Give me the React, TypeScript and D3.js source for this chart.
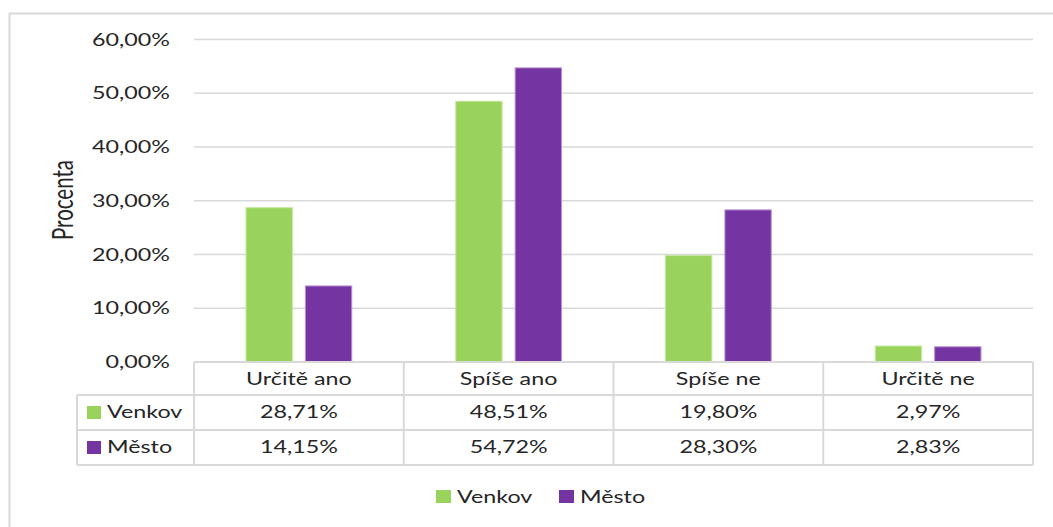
import * as d3 from "d3";

const categories = ["Určitě ano", "Spíše ano", "Spíše ne", "Určitě ne"];
const seriesNames = ["Venkov", "Město"];
const venkov = [28.71, 48.51, 19.8, 2.97];
const mesto = [14.15, 54.72, 28.3, 2.83];
const yTicks = [0, 10, 20, 30, 40, 50, 60];
const colors = ["#99d35b", "#7435a2"];
const strokes = ["#c4e89c", "#b98fd6"];

const W = 1053;
const H = 527;
const SX = 1.37; // the source is stretched horizontally
const FONT = "Lato, 'Open Sans', sans-serif";
const TXT = "#262626";
const GRID = "#d9d9d9";

const fmt = (v: number) => v.toFixed(2).replace(".", ",") + "%";

const T = ({ x, y, anchor = "middle", size = 17, children, rotate = 0 }: any) => (
  <text
    transform={`translate(${x},${y}) scale(${SX},1)${rotate ? ` rotate(${rotate})` : ""}`}
    textAnchor={anchor}
    fontSize={size}
    fontFamily={FONT}
    fill={TXT}
  >
    {children}
  </text>
);

export default function App() {
  const left = 194;
  const right = 1033;
  const top = 39.5;
  const bottom = 362;

  const x = d3.scaleBand<string>().domain(categories).range([left, right]).paddingInner(0.496).paddingOuter(0.248);
  const xs = d3.scaleBand<string>().domain(seriesNames).range([0, x.bandwidth()]).paddingInner(0.22);
  const y = d3.scaleLinear().domain([0, 60]).range([bottom, top]);

  const series = [venkov, mesto];
  const colEdges = [left, ...categories.map((c) => (x(c) as number) - x.step() * 0.248 + x.step())];
  const rowY = [362, 395, 430, 465];
  const tableLeft = 77;

  return (
    <svg width={W} height={H} style={{ position: "absolute", left: 0, top: 0, background: "#fff" }}>
      <rect x={9.5} y={13.5} width={W + 10} height={H + 10} fill="#fff" stroke={GRID} strokeWidth={2} />

      {yTicks.filter((t) => t > 0).map((t) => (
        <line key={t} x1={left} x2={right} y1={y(t)} y2={y(t)} stroke={GRID} strokeWidth={1.5} />
      ))}
      {yTicks.map((t) => (
        <T key={t} x={170} y={y(t) + 6} anchor="end">{fmt(t)}</T>
      ))}
      <T x={73} y={200} rotate={-90} size={20.5}>Procenta</T>

      {categories.map((c, i) => (
        <g key={c}>
          {series.map((s, j) => (
            <rect
              key={j}
              x={(x(c) as number) + (xs(seriesNames[j]) as number)}
              y={y(s[i])}
              width={xs.bandwidth()}
              height={bottom - y(s[i])}
              fill={colors[j]}
              stroke={strokes[j]}
              strokeWidth={1}
            />
          ))}
        </g>
      ))}

      {/* data table */}
      <line x1={left} x2={right} y1={rowY[0]} y2={rowY[0]} stroke={GRID} strokeWidth={2} />
      {rowY.slice(1).map((r) => (
        <line key={r} x1={tableLeft} x2={right} y1={r} y2={r} stroke={GRID} strokeWidth={2} />
      ))}
      <line x1={tableLeft} x2={tableLeft} y1={rowY[1]} y2={rowY[3]} stroke={GRID} strokeWidth={2} />
      {colEdges.map((e, i) => (
        <line key={i} x1={e} x2={e} y1={rowY[0]} y2={rowY[3]} stroke={GRID} strokeWidth={2} />
      ))}
      {categories.map((c, i) => {
        const cx = (colEdges[i] + colEdges[i + 1]) / 2;
        return (
          <g key={c}>
            <T x={cx} y={385}>{c}</T>
            <T x={cx} y={418}>{fmt(venkov[i])}</T>
            <T x={cx} y={453}>{fmt(mesto[i])}</T>
          </g>
        );
      })}
      {seriesNames.map((n, j) => (
        <g key={n}>
          <rect x={87} y={rowY[1] + 11 + j * 35} width={14} height={13} fill={colors[j]} />
          <T x={107} y={418 + j * 35} anchor="start">{n}</T>
        </g>
      ))}

      {/* legend */}
      {seriesNames.map((n, j) => (
        <g key={n}>
          <rect x={436 + j * 123} y={490} width={15} height={13} fill={colors[j]} />
          <T x={457 + j * 123} y={503} anchor="start">{n}</T>
        </g>
      ))}
    </svg>
  );
}
